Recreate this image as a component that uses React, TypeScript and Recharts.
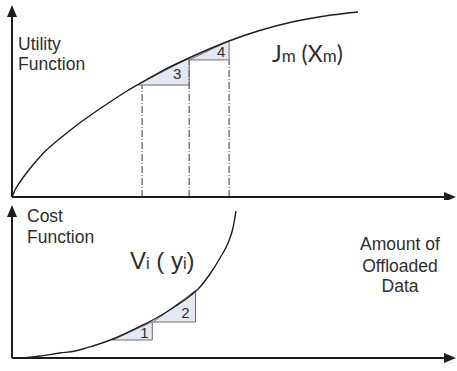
import React from "react";
import {
  ComposedChart,
  Line,
  Area,
  XAxis,
  YAxis,
  ReferenceLine,
  ReferenceDot,
} from "recharts";

// utility curve J_m(x_m) (x: 0..100 of the axis, y: 0..100)
const utilityX = [0, 0.68, 1.8, 4.05, 6.98, 10.81, 14.64, 18.24, 22.07, 25.9, 28.38, 33.33, 39.86, 48.87, 55.41, 63.06, 70.5, 77.93];
const utilityY = [0, 3.65, 7.81, 14.84, 22.66, 30.47, 37.5, 43.49, 49.48, 55.21, 58.59, 65.1, 72.4, 81.25, 86.46, 91.15, 94.27, 96.35];

// cost curve V_i(y_i), lower panel
const costX = [2.25, 6.31, 10.81, 14.19, 18.24, 22.75, 29.5, 33.33, 36.71, 40.09, 42.34, 44.59, 46.85, 48.65, 49.77, 50.45];
const costY = [0, 1.31, 3.27, 4.58, 7.84, 12.42, 21.57, 27.45, 33.66, 40.52, 46.41, 54.9, 65.36, 75.16, 84.97, 96.08];

// step triangles
const utilitySteps = ["3", "4"];
const utilityStepX0 = [28.2, 39.9];
const utilityStepX1 = [39.9, 48.9];
const utilityStepBase = [58.3, 71.4];
const utilityStepTop = [72.4, 81.3];

const costSteps = ["1", "2"];
const costStepX0 = [22.7, 31.76];
const costStepX1 = [31.6, 41.33];
const costStepBase = [11.76, 23.5];
const costStepTop = [23.7, 44.1];

// dash-dot drop lines in the upper panel
const guideX = [29.3, 39.9, 48.9];
const guideTop = [58.3, 71.4, 71.4];

// label inset from each triangle's right-angle corner, px
const utilityLabelInset = [12, 8];
const costLabelInset = [8, 10];

const INK = "#1e1e1e";
const TEXT = "#2e2e2e";
const FILL = "#e3e8f3";
const EDGE = "#6e6e6e";
const SANS = "'Liberation Sans', Arial, sans-serif";

const toPoints = (xs: number[], ys: number[]) => xs.map((x, i) => ({ x, y: ys[i] }));

const xArrow = (p: any) => (
  <polygon
    points={`${p.cx},${p.cy} ${p.cx - 12},${p.cy - 5} ${p.cx - 12},${p.cy + 5}`}
    fill={INK}
  />
);
const yArrow = (p: any) => (
  <polygon
    points={`${p.cx},${p.cy} ${p.cx - 5},${p.cy + 12} ${p.cx + 5},${p.cy + 12}`}
    fill={INK}
  />
);

function steps(
  labels: string[],
  x0: number[],
  x1: number[],
  base: number[],
  top: number[],
  inset: number[],
  prefix: string
) {
  const out: React.ReactNode[] = [];
  labels.forEach((lab, i) => {
    out.push(
      <Area
        key={`${prefix}-fill-${i}`}
        data={[
          { x: x0[i], y: base[i] },
          { x: x1[i], y: top[i] },
        ]}
        dataKey="y"
        type="linear"
        baseValue={base[i]}
        fill={FILL}
        fillOpacity={1}
        stroke="none"
        isAnimationActive={false}
        activeDot={false}
      />
    );
    out.push(
      <Line
        key={`${prefix}-edge-${i}`}
        data={[
          { x: x0[i], y: base[i] },
          { x: x1[i], y: base[i] },
          { x: x1[i], y: top[i] },
          { x: x0[i], y: base[i] },
        ]}
        dataKey="y"
        type="linear"
        stroke={EDGE}
        strokeWidth={1}
        dot={false}
        activeDot={false}
        isAnimationActive={false}
      />
    );
    out.push(
      <ReferenceDot
        key={`${prefix}-lab-${i}`}
        x={x1[i]}
        y={base[i]}
        ifOverflow="visible"
        shape={(p: any) => (
          <text
            x={p.cx - inset[i]}
            y={p.cy - inset[i] + 5.5}
            textAnchor="middle"
            fontSize={15}
            fontFamily={SANS}
            fill={TEXT}
          >
            {lab}
          </text>
        )}
      />
    );
  });
  return out;
}

function Axes() {
  return [
    <ReferenceLine
      key="ax"
      segment={[{ x: 0, y: 0 }, { x: 98.5, y: 0 }]}
      stroke={INK}
      strokeWidth={2}
      ifOverflow="visible"
    />,
    <ReferenceLine
      key="ay"
      segment={[{ x: 0, y: 0 }, { x: 0, y: 96 }]}
      stroke={INK}
      strokeWidth={2}
      ifOverflow="visible"
    />,
    <ReferenceDot key="axh" x={100} y={0} ifOverflow="visible" shape={xArrow} />,
    <ReferenceDot key="ayh" x={0} y={100} ifOverflow="visible" shape={yArrow} />,
  ];
}

export default function App() {
  return (
    <div
      style={{
        position: "absolute",
        left: 0,
        top: 0,
        width: 457,
        height: 371,
        background: "#fff",
      }}
    >
      <div style={{ position: "absolute", left: 0, top: 0 }}>
        <ComposedChart
          width={457}
          height={200}
          margin={{ top: 5, right: 1, bottom: 3, left: 12 }}
        >
          <XAxis type="number" dataKey="x" domain={[0, 100]} hide />
          <YAxis type="number" domain={[0, 100]} hide />
          {guideX.map((gx, i) => (
            <ReferenceLine
              key={`g${i}`}
              segment={[{ x: gx, y: 0 }, { x: gx, y: guideTop[i] }]}
              stroke="#3a3a3a"
              strokeWidth={1}
              strokeDasharray="7 2 1 2"
            />
          ))}
          {steps(utilitySteps, utilityStepX0, utilityStepX1, utilityStepBase, utilityStepTop, utilityLabelInset, "u")}
          <Line
            data={toPoints(utilityX, utilityY)}
            dataKey="y"
            type="monotone"
            stroke={INK}
            strokeWidth={1.4}
            dot={false}
            activeDot={false}
            isAnimationActive={false}
          />
          {Axes()}
          <text x={18} y={50} fontSize={17.5} fontFamily={SANS} fill={TEXT}>
            Utility
          </text>
          <text x={18} y={70} fontSize={17.5} fontFamily={SANS} fill={TEXT}>
            Function
          </text>
          <text x={272} y={62} fontSize={23} fontFamily="Lato, sans-serif" fill={TEXT}>
            J<tspan fontSize={17}>m</tspan> (X<tspan fontSize={17}>m</tspan>)
          </text>
        </ComposedChart>
      </div>
      <div style={{ position: "absolute", left: 0, top: 198 }}>
        <ComposedChart
          width={457}
          height={173}
          margin={{ top: 7, right: 1, bottom: 13, left: 12 }}
        >
          <XAxis type="number" dataKey="x" domain={[0, 100]} hide />
          <YAxis type="number" domain={[0, 100]} hide />
          {steps(costSteps, costStepX0, costStepX1, costStepBase, costStepTop, costLabelInset, "c")}
          <Line
            data={toPoints(costX, costY)}
            dataKey="y"
            type="monotone"
            stroke={INK}
            strokeWidth={1.4}
            dot={false}
            activeDot={false}
            isAnimationActive={false}
          />
          {Axes()}
          <text x={27} y={24} fontSize={17.5} fontFamily={SANS} fill={TEXT}>
            Cost
          </text>
          <text x={27} y={45} fontSize={17.5} fontFamily={SANS} fill={TEXT}>
            Function
          </text>
          <text x={130} y={71} fontSize={24} fontFamily={SANS} fill={TEXT}>
            V<tspan fontSize={16}>i</tspan> ( y<tspan fontSize={16}>i</tspan>)
          </text>
          <text x={400} y={52} textAnchor="middle" fontSize={17.5} fontFamily={SANS} fill={TEXT}>
            Amount of
          </text>
          <text x={400} y={74} textAnchor="middle" fontSize={17.5} fontFamily={SANS} fill={TEXT}>
            Offloaded
          </text>
          <text x={400} y={94} textAnchor="middle" fontSize={17.5} fontFamily={SANS} fill={TEXT}>
            Data
          </text>
        </ComposedChart>
      </div>
    </div>
  );
}
